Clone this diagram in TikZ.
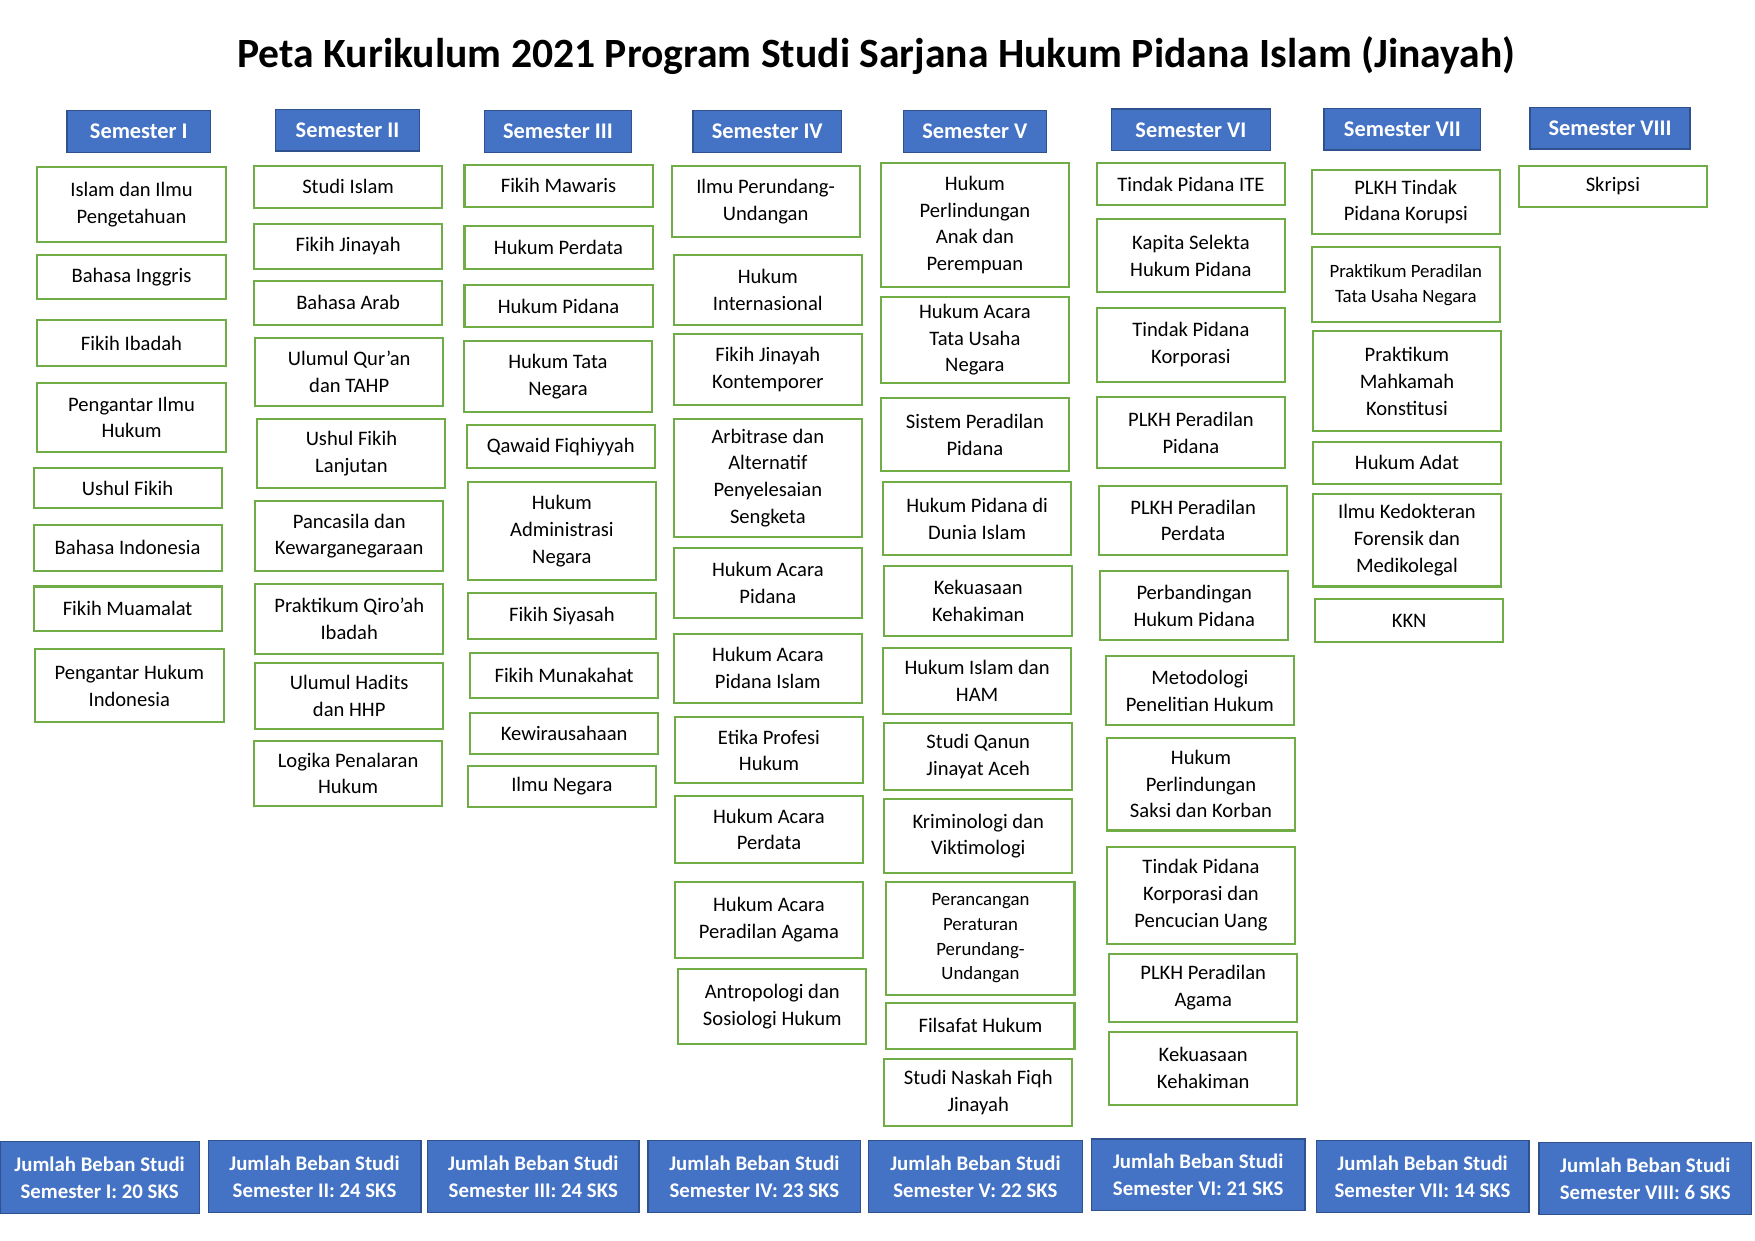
\documentclass[tikz,border=0pt]{standalone}
\usepackage{fontspec}
\setmainfont{Carlito}
\definecolor{biru}{HTML}{4472C4}
\definecolor{birutua}{HTML}{2F528F}
\definecolor{hijau}{HTML}{70AD47}
\tikzset{
  kotak/.style = {align=center, inner sep=0pt, text centered,
    font=\fontsize{18.4}{24}\selectfont},
  mk_box/.style = {kotak, rectangle, draw=hijau, fill=white,
    line width=1.8pt, minimum width=168pt},% mata kuliah
  mk_kecil/.style = {mk_box, font=\fontsize{16.8}{22}\selectfont},% mata kuliah, huruf kecil
  sem_head/.style = {kotak, rectangle, draw=birutua, fill=biru, text=white,
    line width=1.2pt, minimum height=37pt,
    font=\fontsize{20}{24}\selectfont\bfseries},% judul semester
  sks_box/.style = {kotak, rectangle, draw=birutua, fill=biru, text=white,
    line width=1.2pt, minimum width=190pt, minimum height=64pt,
    font=\fontsize{18.6}{24}\selectfont\bfseries}% jumlah beban studi
}
\begin{document}
\begin{tikzpicture}[x=1pt,y=-1pt]
\useasboundingbox[fill=white] (0,0) rectangle (1568,1108);
\node [font=\fontsize{37.2}{42}\selectfont\bfseries] (judul) at (783,50)
  {Peta Kurikulum 2021 Program Studi Sarjana Hukum Pidana Islam (Jinayah)};
% judul semester
\node [sem_head, minimum width=128pt] (h1) at (124,117.5) {Semester I};
\node [sem_head, minimum width=129pt] (h2) at (310.5,116.5) {Semester II};
\node [sem_head, minimum width=131pt] (h3) at (498.5,117.5) {Semester III};
\node [sem_head, minimum width=133pt] (h4) at (685.5,117.5) {Semester IV};
\node [sem_head, minimum width=128pt] (h5) at (871,117.5) {Semester V};
\node [sem_head, minimum width=142pt] (h6) at (1064,116) {Semester VI};
\node [sem_head, minimum width=140pt] (h7) at (1253,115.5) {Semester VII};
\node [sem_head, minimum width=143pt] (h8) at (1438.5,114.5) {Semester VIII};
% semester I
\node [mk_box, minimum width=169pt, minimum height=67pt] (s1a) at (117.5,182.5) {Islam dan Ilmu\\Pengetahuan};
\node [mk_box, minimum width=169pt, minimum height=39pt] (s1b) at (117.5,247.5) {Bahasa Inggris};
\node [mk_box, minimum width=169pt, minimum height=41pt] (s1c) at (117.5,306.5) {Fikih Ibadah};
\node [mk_box, minimum width=169pt, minimum height=62pt] (s1d) at (117.5,373) {Pengantar Ilmu\\Hukum};
\node [mk_box, minimum height=36pt] (s1e) at (114,436) {Ushul Fikih};
\node [mk_box, minimum height=41pt] (s1f) at (114,489.5) {Bahasa Indonesia};
\node [mk_box, minimum height=40pt] (s1g) at (114,544) {Fikih Muamalat};
\node [mk_box, minimum width=169pt, minimum height=65pt] (s1h) at (115.5,612.5) {Pengantar Hukum\\Indonesia};
% semester II
\node [mk_box, minimum height=38pt] (s2a) at (311,167) {Studi Islam};
\node [mk_box, minimum height=40pt] (s2b) at (311,220) {Fikih Jinayah};
\node [mk_box, minimum height=39pt] (s2c) at (311,270.5) {Bahasa Arab};
\node [mk_box, minimum height=61pt] (s2d) at (312,332.5) {Ulumul Qur’an\\dan TAHP};
\node [mk_box, minimum height=62pt] (s2e) at (314,405) {Ushul Fikih\\Lanjutan};
\node [mk_box, minimum height=62pt] (s2f) at (312,479) {Pancasila dan\\Kewarganegaraan};
\node [mk_box, minimum height=62pt] (s2g) at (312,553) {Praktikum Qiro’ah\\Ibadah};
\node [mk_box, minimum height=59pt] (s2h) at (312,621.5) {Ulumul Hadits\\dan HHP};
\node [mk_box, minimum height=58pt] (s2i) at (311,691) {Logika Penalaran\\Hukum};
% semester III
\node [mk_box, minimum height=38pt] (s3a) at (499,166) {Fikih Mawaris};
\node [mk_box, minimum height=38pt] (s3b) at (499,221) {Hukum Perdata};
\node [mk_box, minimum height=37pt] (s3c) at (499,273.5) {Hukum Pidana};
\node [mk_box, minimum height=63pt] (s3d) at (498.5,336.5) {Hukum Tata\\Negara};
\node [mk_box, minimum height=38pt] (s3e) at (501,399) {Qawaid Fiqhiyyah};
\node [mk_box, minimum height=87pt] (s3f) at (502,474.5) {Hukum\\Administrasi\\Negara};
\node [mk_box, minimum height=41pt] (s3g) at (502,550.5) {Fikih Siyasah};
\node [mk_box, minimum height=41pt] (s3h) at (504,603.5) {Fikih Munakahat};
\node [mk_box, minimum height=37pt] (s3i) at (504,655.5) {Kewirausahaan};
\node [mk_box, minimum height=37pt] (s3j) at (502,702.5) {Ilmu Negara};
% semester IV
\node [mk_box, minimum height=64pt] (s4a) at (684,180) {Ilmu Perundang-\\Undangan};
\node [mk_box, minimum height=62pt] (s4b) at (686,259) {Hukum\\Internasional};
\node [mk_box, minimum height=64pt] (s4c) at (686,330) {Fikih Jinayah\\Kontemporer};
\node [mk_box, minimum height=106pt] (s4d) at (686,427) {Arbitrase dan\\Alternatif\\Penyelesaian\\Sengketa};
\node [mk_box, minimum height=62pt] (s4e) at (686,521) {Hukum Acara\\Pidana};
\node [mk_box, minimum height=62pt] (s4f) at (686,597) {Hukum Acara\\Pidana Islam};
\node [mk_box, minimum height=59pt] (s4g) at (687,670.5) {Etika Profesi\\Hukum};
\node [mk_box, minimum height=60pt] (s4h) at (687,741) {Hukum Acara\\Perdata};
\node [mk_box, minimum height=68pt] (s4i) at (687,822) {Hukum Acara\\Peradilan Agama};
\node [mk_box, minimum height=67pt] (s4j) at (690,899.5) {Antropologi dan\\Sosiologi Hukum};
% semester V
\node [mk_box, minimum height=110pt] (s5a) at (871,201) {Hukum\\Perlindungan\\Anak dan\\Perempuan};
\node [mk_box, minimum height=77pt] (s5b) at (871,303.5) {Hukum Acara\\Tata Usaha\\Negara};
\node [mk_box, minimum height=65pt] (s5c) at (871,388.5) {Sistem Peradilan\\Pidana};
\node [mk_box, minimum height=65pt] (s5d) at (873,463.5) {Hukum Pidana di\\Dunia Islam};
\node [mk_box, minimum height=62pt] (s5e) at (874,537) {Kekuasaan\\Kehakiman};
\node [mk_box, minimum height=59pt] (s5f) at (873,608.5) {Hukum Islam dan\\HAM};
\node [mk_box, minimum height=60pt] (s5g) at (874,676) {Studi Qanun\\Jinayat Aceh};
\node [mk_box, minimum height=66pt] (s5h) at (874,747) {Kriminologi dan\\Viktimologi};
\node [mk_kecil, minimum height=101pt] (s5i) at (876,838.5) {Perancangan\\Peraturan\\Perundang-\\Undangan};
\node [mk_box, minimum height=41pt] (s5j) at (876,916.5) {Filsafat Hukum};
\node [mk_box, minimum height=60pt] (s5k) at (874,976) {Studi Naskah Fiqh\\Jinayah};
% semester VI
\node [mk_box, minimum height=37pt] (s6a) at (1064,164.5) {Tindak Pidana ITE};
\node [mk_box, minimum height=65pt] (s6b) at (1064,228.5) {Kapita Selekta\\Hukum Pidana};
\node [mk_box, minimum height=66pt] (s6c) at (1064,308) {Tindak Pidana\\Korporasi};
\node [mk_box, minimum height=63pt] (s6d) at (1064,386.5) {PLKH Peradilan\\Pidana};
\node [mk_box, minimum height=62pt] (s6e) at (1066,465) {PLKH Peradilan\\Perdata};
\node [mk_box, minimum height=62pt] (s6f) at (1067,541) {Perbandingan\\Hukum Pidana};
\node [mk_box, minimum height=62pt] (s6g) at (1072,617) {Metodologi\\Penelitian Hukum};
\node [mk_box, minimum height=83pt] (s6h) at (1073,700.5) {Hukum\\Perlindungan\\Saksi dan Korban};
\node [mk_box, minimum height=86pt] (s6i) at (1073,800) {Tindak Pidana\\Korporasi dan\\Pencucian Uang};
\node [mk_box, minimum height=61pt] (s6j) at (1075,882.5) {PLKH Peradilan\\Agama};
\node [mk_box, minimum height=65pt] (s6k) at (1075,954.5) {Kekuasaan\\Kehakiman};
% semester VII
\node [mk_box, minimum height=57pt] (s7a) at (1256,180.5) {PLKH Tindak\\Pidana Korupsi};
\node [mk_kecil, minimum height=67pt] (s7b) at (1256,254.5) {Praktikum Peradilan\\Tata Usaha Negara};
\node [mk_box, minimum height=89pt] (s7c) at (1257,340.5) {Praktikum\\Mahkamah\\Konstitusi};
\node [mk_box, minimum height=37pt] (s7d) at (1257,413.5) {Hukum Adat};
\node [mk_box, minimum height=83pt] (s7e) at (1257,482.5) {Ilmu Kedokteran\\Forensik dan\\Medikolegal};
\node [mk_box, minimum height=39pt] (s7f) at (1259,554.5) {KKN};
% semester VIII
\node [mk_box, minimum height=37pt] (s8a) at (1441,166.5) {Skripsi};
% jumlah beban studi
\node [sks_box, minimum width=178pt] (b1) at (89,1052) {Jumlah Beban Studi\\Semester I: 20 SKS};
\node [sks_box] (b2) at (281,1051) {Jumlah Beban Studi\\Semester II: 24 SKS};
\node [sks_box, minimum width=189pt] (b3) at (476.5,1051) {Jumlah Beban Studi\\Semester III: 24 SKS};
\node [sks_box] (b4) at (674,1051) {Jumlah Beban Studi\\Semester IV: 23 SKS};
\node [sks_box, minimum width=191pt] (b5) at (871.5,1051) {Jumlah Beban Studi\\Semester V: 22 SKS};
\node [sks_box, minimum width=191pt] (b6) at (1070.5,1049.5) {Jumlah Beban Studi\\Semester VI: 21 SKS};
\node [sks_box] (b7) at (1271,1051) {Jumlah Beban Studi\\Semester VII: 14 SKS};
\node [sks_box] (b8) at (1470,1053) {Jumlah Beban Studi\\Semester VIII: 6 SKS};
\end{tikzpicture}
\end{document}
